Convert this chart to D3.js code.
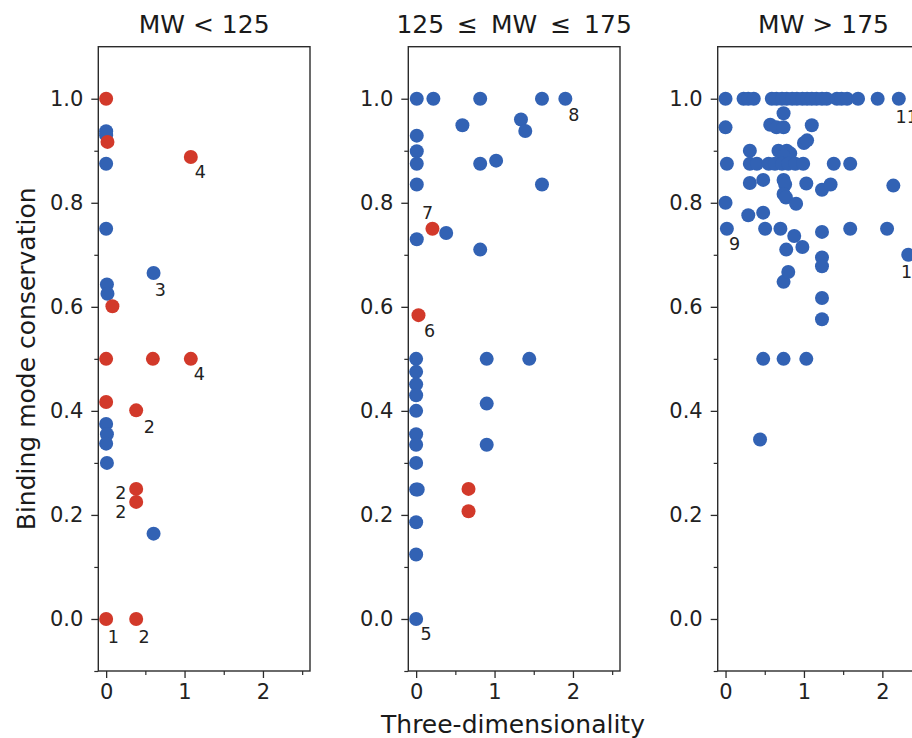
<!DOCTYPE html>
<html>
<head>
<meta charset="utf-8">
<script src="https://cdn.jsdelivr.net/npm/d3@7"></script>
<style>
  body { margin: 0; background: #fff; }
  svg { font-family: "DejaVu Sans", sans-serif; }
  .domain { display: none; }
</style>
</head>
<body>
<svg id="chart" width="912" height="738"></svg>
<script>
// panel titles
let panelTitles = ['MW < 125', '125\u2009 \u2264 \u2009MW\u2009 \u2264 \u2009175', 'MW > 175'];

let xTicks = [0, 1, 2];
let yTicks = [0.0, 0.2, 0.4, 0.6, 0.8, 1.0];

// MW < 125  [three-dimensionality, binding mode conservation]
let lowBlue = [
    [0, 0.9375], [0, 0.93], [0, 0.875], [0, 0.75], [0.605, 0.665],
    [0.01, 0.643], [0.017, 0.625], [0, 0.375], [0.01, 0.355], [0, 0.337],
    [0.01, 0.30], [0.605, 0.164]
];
let lowRed = [
    [0, 1.0], [0.017, 0.917], [1.08, 0.888], [0.08, 0.601], [0, 0.5],
    [0.596, 0.5], [1.08, 0.5], [0, 0.417], [0.383, 0.401], [0.383, 0.25],
    [0.383, 0.225], [0, 0], [0.383, 0]
];
let lowLabels = [
    ['1', 0.093, -0.035], ['2', 0.485, -0.035], ['2', 0.55, 0.369],
    ['2', 0.188, 0.242], ['2', 0.188, 0.205], ['3', 0.69, 0.633],
    ['4', 1.2, 0.859], ['4', 1.19, 0.47]
];

// 125 <= MW <= 175
let midBlue = [
    [0.008, 1], [0.22, 1], [0.817, 1], [1.605, 1], [1.903, 1],
    [0.59, 0.949], [1.337, 0.96], [1.392, 0.938], [0.008, 0.929], [0.008, 0.899],
    [0.008, 0.875], [0.817, 0.875], [1.02, 0.881], [0.008, 0.835], [1.605, 0.835],
    [0.383, 0.742], [0.008, 0.73], [0.817, 0.71], [0, 0.5], [0.9, 0.5],
    [1.443, 0.5], [0, 0.475], [0, 0.451], [0, 0.43], [0, 0.40],
    [0, 0.355], [0, 0.335], [0, 0.30], [0, 0.249], [0.02, 0.249],
    [0, 0.186], [0, 0.124], [0, 0], [0.9, 0.414], [0.9, 0.335]
];
let midRed = [
    [0.208, 0.75], [0.03, 0.584], [0.668, 0.25], [0.668, 0.207]
];
let midLabels = [
    ['5', 0.128, -0.028], ['6', 0.17, 0.553], ['7', 0.145, 0.781], ['8', 2.01, 0.968]
];

// MW > 175
let highBlue = [
    [0, 1], [0.23, 1], [0.29, 1], [0.36, 1], [0.59, 1], [0.65, 1], [0.72, 1],
    [0.78, 1], [0.85, 1], [0.91, 1], [0.98, 1], [1.04, 1], [1.10, 1], [1.16, 1],
    [1.23, 1], [1.29, 1], [1.42, 1], [1.48, 1], [1.55, 1], [1.69, 1], [1.94, 1],
    [2.21, 1],
    [0.74, 0.972], [0, 0.945], [0.57, 0.95], [0.65, 0.945], [0.74, 0.945],
    [1.10, 0.949], [1.0, 0.915], [1.04, 0.92], [0.31, 0.90], [0.675, 0.90],
    [0.78, 0.90], [0.825, 0.895], [0.74, 0.89],
    [0.017, 0.875], [0.31, 0.875], [0.40, 0.875], [0.55, 0.875], [0.63, 0.875],
    [0.72, 0.875], [0.80, 0.875], [0.89, 0.875], [0.99, 0.875], [1.38, 0.875],
    [1.59, 0.875],
    [0.31, 0.838], [0.48, 0.844], [0.74, 0.844], [0.76, 0.835], [1.03, 0.837],
    [1.23, 0.825], [1.34, 0.835], [2.14, 0.833], [0.74, 0.817], [0.77, 0.81],
    [0.90, 0.798], [0, 0.80], [0.29, 0.776], [0.48, 0.781],
    [0.017, 0.75], [0.505, 0.75], [0.70, 0.75], [0.876, 0.736], [0.98, 0.715],
    [0.774, 0.71], [1.23, 0.744], [1.59, 0.75], [2.06, 0.75], [2.33, 0.70],
    [1.23, 0.695], [1.23, 0.678], [0.74, 0.648], [0.80, 0.667],
    [1.23, 0.617], [1.23, 0.576], [0.48, 0.5], [0.74, 0.5], [1.03, 0.5],
    [0.44, 0.345]
];
let highRed = [];
let highLabels = [
    ['9', 0.114, 0.721], ['10', 2.38, 0.667], ['11', 2.31, 0.965]
];

let panels = [
    { title: panelTitles[0], blue: lowBlue, red: lowRed, labels: lowLabels },
    { title: panelTitles[1], blue: midBlue, red: midRed, labels: midLabels },
    { title: panelTitles[2], blue: highBlue, red: highRed, labels: highLabels }
];

let svg = d3.select('#chart');

let panelLeft = [98.3, 408.3, 717.7];
let panelWidth = 211.7;
let plotTop = 46.7;
let plotBottom = 671;
let plotHeight = plotBottom - plotTop;

let blue = '#3262b4';
let red = '#d2392a';
let ink = '#2b2b2b';

let x = d3.scaleLinear().domain([-0.1, 2.6]).range([0, panelWidth]);
let y = d3.scaleLinear().domain([-0.1, 1.1]).range([plotHeight, 0]);

panels.forEach((p, i) => {
    let g = svg.append('g').attr('transform', 'translate(' + panelLeft[i] + ',' + plotTop + ')');

    // minor ticks
    g.append('g')
        .attr('transform', 'translate(0,' + plotHeight + ')')
        .call(d3.axisBottom(x).tickValues([0.5, 1.5, 2.5]).tickSize(4).tickFormat(''))
        .call(s => s.selectAll('line').attr('stroke', ink).attr('stroke-width', 1.2));
    g.append('g')
        .call(d3.axisLeft(y).tickValues([-0.1, 0.1, 0.3, 0.5, 0.7, 0.9]).tickSize(4).tickFormat(''))
        .call(s => s.selectAll('line').attr('stroke', ink).attr('stroke-width', 1.2));

    // major ticks
    g.append('g')
        .attr('transform', 'translate(0,' + plotHeight + ')')
        .call(d3.axisBottom(x).tickValues(xTicks).tickSize(7).tickPadding(6).tickFormat(d3.format('d')))
        .call(s => {
            s.selectAll('line').attr('stroke', ink).attr('stroke-width', 1.3);
            s.selectAll('text').attr('fill', '#222').style('font-size', '21px')
                .style('font-family', '"DejaVu Sans", sans-serif');
        });
    g.append('g')
        .call(d3.axisLeft(y).tickValues(yTicks).tickSize(7).tickPadding(8).tickFormat(d3.format('.1f')))
        .call(s => {
            s.selectAll('line').attr('stroke', ink).attr('stroke-width', 1.3);
            s.selectAll('text').attr('fill', '#222').style('font-size', '21px')
                .style('font-family', '"DejaVu Sans", sans-serif');
        });

    // points
    g.selectAll('.blue')
        .data(p.blue)
        .enter()
        .append('circle')
        .attr('class', 'blue')
        .attr('cx', d => x(d[0]))
        .attr('cy', d => y(d[1]))
        .attr('r', 7)
        .attr('fill', blue);

    g.selectAll('.red')
        .data(p.red)
        .enter()
        .append('circle')
        .attr('class', 'red')
        .attr('cx', d => x(d[0]))
        .attr('cy', d => y(d[1]))
        .attr('r', 7)
        .attr('fill', red);

    g.selectAll('.lbl')
        .data(p.labels)
        .enter()
        .append('text')
        .attr('class', 'lbl')
        .attr('x', d => x(d[1]))
        .attr('y', d => y(d[2]))
        .attr('text-anchor', 'middle')
        .attr('dominant-baseline', 'central')
        .attr('fill', '#222')
        .style('font-size', '17.5px')
        .text(d => d[0]);

    // box
    g.append('rect')
        .attr('width', panelWidth)
        .attr('height', plotHeight)
        .attr('fill', 'none')
        .attr('stroke', ink)
        .attr('stroke-width', 1.4);

    svg.append('text')
        .attr('x', panelLeft[i] + panelWidth / 2)
        .attr('y', 33)
        .attr('text-anchor', 'middle')
        .attr('fill', '#1a1a1a')
        .style('font-size', '25px')
        .text(p.title);
});

svg.append('text')
    .attr('x', 513)
    .attr('y', 733)
    .attr('text-anchor', 'middle')
    .attr('fill', '#1a1a1a')
    .style('font-size', '25px')
    .text('Three-dimensionality');

svg.append('text')
    .attr('transform', 'translate(35,' + (plotTop + plotBottom) / 2 + ') rotate(-90)')
    .attr('text-anchor', 'middle')
    .attr('fill', '#1a1a1a')
    .style('font-size', '25px')
    .text('Binding mode conservation');
</script>
</body>
</html>
